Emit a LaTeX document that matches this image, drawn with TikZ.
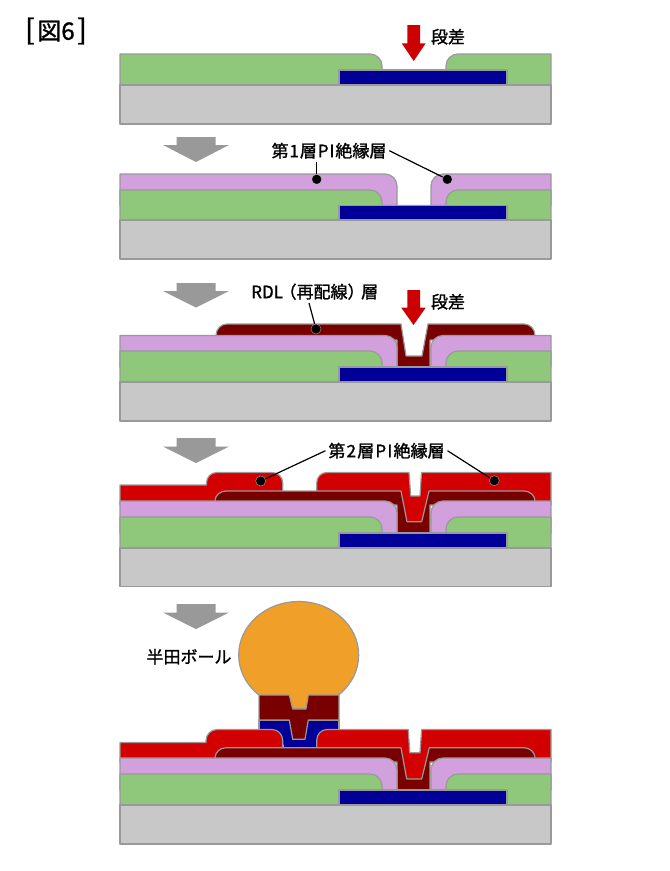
\documentclass[tikz,border=0pt]{standalone}
\usepackage{fontspec}
\setmainfont{Noto Sans CJK JP}[FakeBold=1.3]
\definecolor{layerline}{RGB}{153,153,153}
\definecolor{substrategrey}{RGB}{200,200,200}
\definecolor{moldgreen}{RGB}{143,200,122}
\definecolor{padblue}{RGB}{0,0,153}
\definecolor{polypink}{RGB}{210,160,220}
\definecolor{rdlmaroon}{RGB}{120,0,0}
\definecolor{polyred}{RGB}{210,0,0}
\definecolor{ballorange}{RGB}{240,160,40}
\definecolor{steparrow}{RGB}{204,0,0}

\begin{document}
\begin{tikzpicture}[x=0.75pt,y=0.75pt,yscale=-1,xscale=1,
  layer/.style={draw=layerline,line width=0.9pt,line join=round},
  greylayer/.style={layer,fill=substrategrey},
  greenlayer/.style={layer,fill=moldgreen},
  bluelayer/.style={layer,fill=padblue},
  pinklayer/.style={layer,fill=polypink},
  rdllayer/.style={layer,fill=rdlmaroon},
  redlayer/.style={layer,fill=polyred},
  balllayer/.style={layer,fill=ballorange},
  stagearrow/.style={fill=layerline},
  redarrow/.style={fill=steparrow},
  callout/.style={inner sep=2pt,font=\fontsize{12.75pt}{15pt}\selectfont},
  leader/.style={draw=black,line width=0.9pt},
  leaderdot/.style={circle,fill=black,draw=white,draw opacity=0.5,line width=0.4pt,inner sep=0pt,minimum size=7.5pt}]
\useasboundingbox (0,0) rectangle (670,871);

%Text: figure number
\node [inner sep=0pt,font=\fontsize{18pt}{20pt}\selectfont] (fignum) at (56,31) {\fontsize{21pt}{20pt}\selectfont[\hspace{2pt}\fontsize{18pt}{20pt}\selectfont 図6\hspace{2pt}\fontsize{21pt}{20pt}\selectfont]};

%Panel 1
\draw [greenlayer] (120,54) -- (370,54) .. controls (376.6,54) and (382,59.4) .. (382,66) -- (382,70) -- (446,70) -- (446,66) .. controls (446,59.4) and (451.4,54) .. (458,54) -- (551,54) -- (551,85) -- (120,85) -- cycle ;
\draw [bluelayer] (339,70) rectangle (507,85) ;
\draw [greylayer] (120,85) rectangle (551,124) ;
\fill [redarrow] (407.3,25) -- (420,25) -- (420,43.3) -- (425.7,43.3) -- (413.7,61) -- (401.7,43.3) -- (407.3,43.3) -- cycle ;

%Stage arrows
\fill [stagearrow] (176.7,137) -- (215.7,137) -- (215.7,145) -- (229,145) -- (196,162) -- (163,145) -- (176.7,145) -- cycle ;
\fill [stagearrow] (176.7,283) -- (215.7,283) -- (215.7,291) -- (229,291) -- (196,307.5) -- (163,291) -- (176.7,291) -- cycle ;
\fill [stagearrow] (176.7,438) -- (215.7,438) -- (215.7,446.5) -- (229,446.5) -- (196,463) -- (163,446.5) -- (176.7,446.5) -- cycle ;
\fill [stagearrow] (176.7,604) -- (215.7,604) -- (215.7,612.5) -- (229,612.5) -- (196,629) -- (163,612.5) -- (176.7,612.5) -- cycle ;

%Panel 2
\draw [pinklayer] (120,174) -- (385,174) .. controls (391.6,174) and (397,179.4) .. (397,186) -- (397,205.5) -- (120,205.5) -- cycle ;
\draw [pinklayer] (551,174) -- (443,174) .. controls (436.4,174) and (431,179.4) .. (431,186) -- (431,205.5) -- (551,205.5) -- cycle ;
\draw [greenlayer] (120,190) -- (370,190) .. controls (376.6,190) and (382,195.4) .. (382,202) -- (382,205.5) -- (446,205.5) -- (446,202) .. controls (446,195.4) and (451.4,190) .. (458,190) -- (551,190) -- (551,220) -- (120,220) -- cycle ;
\draw [bluelayer] (339,205.5) rectangle (507,220) ;
\draw [greylayer] (120,220) rectangle (551,259) ;

%Panel 3
\draw [rdllayer] (216,335.5) .. controls (216,329) and (221,324) .. (227,324) -- (401,324) -- (406,356) -- (422,356) -- (428,324) -- (524,324) .. controls (530,324) and (535,329) .. (535,335.5) -- (535,340) -- (430,340) -- (430,367) -- (397,367) -- (397,340) -- (216,340) -- cycle ;
\draw [pinklayer] (120,335.5) -- (385,335.5) .. controls (391.6,335.5) and (397,340.9) .. (397,347.5) -- (397,367) -- (120,367) -- cycle ;
\draw [pinklayer] (551,335.5) -- (443,335.5) .. controls (436.4,335.5) and (431,340.9) .. (431,347.5) -- (431,367) -- (551,367) -- cycle ;
\draw [greenlayer] (120,351) -- (370,351) .. controls (376.6,351) and (382,356.4) .. (382,363) -- (382,367) -- (446,367) -- (446,363) .. controls (446,356.4) and (451.4,351) .. (458,351) -- (551,351) -- (551,382) -- (120,382) -- cycle ;
\draw [bluelayer] (339,367) rectangle (507,382) ;
\draw [greylayer] (120,382) rectangle (551,421) ;
\fill [redarrow] (407.3,290) -- (420,290) -- (420,307.7) -- (425.7,307.7) -- (413.5,325) -- (401.3,307.7) -- (407.3,307.7) -- cycle ;

%Panel 4
\draw [redlayer] (120,485) -- (206.5,485) -- (206.5,483) .. controls (206.5,477) and (211,472.5) .. (217,472.5) -- (272,472.5) .. controls (278,472.5) and (282.7,477) .. (282.7,483) -- (282.7,505) -- (120,505) -- cycle ;
\draw [redlayer] (316.7,505) -- (316.7,483) .. controls (316.7,477) and (321,472.5) .. (327,472.5) -- (409,472.5) -- (410.7,496) -- (420,496) -- (421.5,472.5) -- (551,472.5) -- (551,505) -- (428,505) -- (424,525) -- (405,525) -- (401,505) -- cycle ;
\draw [rdllayer] (215,501) .. controls (215,495.5) and (220,491) .. (226,491) -- (401,491) -- (407,521.7) -- (421.7,521.7) -- (429,491) -- (524,491) .. controls (530,491) and (535,495.5) .. (535,501) -- (535,505) -- (430,505) -- (430,533) -- (397,533) -- (397,505) -- (215,505) -- cycle ;
\draw [pinklayer] (120,501) -- (385,501) .. controls (391.6,501) and (397,506.4) .. (397,513) -- (397,533) -- (120,533) -- cycle ;
\draw [pinklayer] (551,501) -- (443,501) .. controls (436.4,501) and (431,506.4) .. (431,513) -- (431,533) -- (551,533) -- cycle ;
\draw [greenlayer] (120,517) -- (370,517) .. controls (376.6,517) and (382,522.4) .. (382,529) -- (382,533) -- (446,533) -- (446,529) .. controls (446,522.4) and (451.4,517) .. (458,517) -- (551,517) -- (551,548) -- (120,548) -- cycle ;
\draw [bluelayer] (339,533) rectangle (507,548) ;
\draw [greylayer] (120,548) rectangle (551,586.5) ;

%Panel 5: ball and pad
\draw [balllayer] (298.7,655) ellipse [x radius=60,y radius=53.5] ;
\draw [bluelayer] (259,720) -- (339,720) -- (339,745) -- (317,745) -- (317,748) -- (283,748) -- (283,745) -- (259,745) -- cycle ;
\draw [rdllayer] (259,695) -- (289.3,695) -- (292.7,709) -- (306,709) -- (308.3,695) -- (339,695) -- (339,720) -- (308.3,720) -- (305,739.3) -- (292.7,739.3) -- (289.3,720) -- (259,720) -- cycle ;

%Panel 5: layers
\draw [redlayer] (120,742.5) -- (206,742.5) -- (206,740.5) .. controls (206,734.5) and (211,729.5) .. (217,729.5) -- (272,729.5) .. controls (278,729.5) and (282.7,734.5) .. (282.7,740.5) -- (282.7,762) -- (120,762) -- cycle ;
\draw [redlayer] (316.7,762) -- (316.7,740.5) .. controls (316.7,734.5) and (321,729.5) .. (327,729.5) -- (408.3,729.5) -- (409.7,752.7) -- (420,752.7) -- (421.7,729.5) -- (551,729.5) -- (551,762) -- (428,762) -- (424,782) -- (405,782) -- (401,762) -- cycle ;
\draw [rdllayer] (215,758) .. controls (215,752.5) and (220,747.7) .. (226,747.7) -- (401,747.7) -- (406.7,779) -- (421.7,779) -- (429.3,747.7) -- (524,747.7) .. controls (530,747.7) and (535,752.5) .. (535,758) -- (535,762) -- (430,762) -- (430,790) -- (397,790) -- (397,762) -- (215,762) -- cycle ;
\draw [pinklayer] (120,758) -- (385,758) .. controls (391.6,758) and (397,763.4) .. (397,770) -- (397,790) -- (120,790) -- cycle ;
\draw [pinklayer] (551,758) -- (443,758) .. controls (436.4,758) and (431,763.4) .. (431,770) -- (431,790) -- (551,790) -- cycle ;
\draw [greenlayer] (120,774) -- (370,774) .. controls (376.6,774) and (382,779.4) .. (382,786) -- (382,790) -- (446,790) -- (446,786) .. controls (446,779.4) and (451.4,774) .. (458,774) -- (551,774) -- (551,805) -- (120,805) -- cycle ;
\draw [bluelayer] (339,790) rectangle (507,805) ;
\draw [greylayer] (120,805) rectangle (551,844) ;

% Text Node
\node [callout] (stepa) at (448,36.7) {段差};
\node [callout] (stepb) at (448,301.7) {段差};
\node [callout] (pifirst) at (329,150.7) {第\hspace{0.7pt}1\hspace{0.7pt}層\hspace{0.7pt}P\hspace{0.7pt}I\hspace{0.7pt}絶縁層};
\node [callout] (rdl) at (314.7,291.7) {RDL\hspace{-0.2em}（再配線）\hspace{-0.2em}層};
\node [callout] (pisecond) at (386.5,450.7) {第\hspace{0.9pt}2\hspace{0.9pt}層\hspace{0.9pt}P\hspace{0.9pt}I\hspace{0.9pt}絶縁層};
\node [callout] (solder) at (189,656.7) {半田ボール};

%Leader dots
\node [leaderdot] (dotpia) at (316.7,179.3) {};
\node [leaderdot] (dotpib) at (447.3,179.3) {};
\node [leaderdot] (dotrdl) at (316,329) {};
\node [leaderdot] (dotredA) at (260.7,481) {};
\node [leaderdot] (dotredB) at (494.3,480.7) {};
\coordinate (rdlfoot) at (309,303);

%Leader lines
\draw [leader] (pifirst.south -| dotpia) -- (dotpia) ;
\draw [leader] (pifirst.east) -- (dotpib) ;
\draw [leader] (rdlfoot) -- (dotrdl) ;
\draw [leader] (pisecond.west) -- (dotredA) ;
\draw [leader] (pisecond.east) -- (dotredB) ;

\end{tikzpicture}
\end{document}
